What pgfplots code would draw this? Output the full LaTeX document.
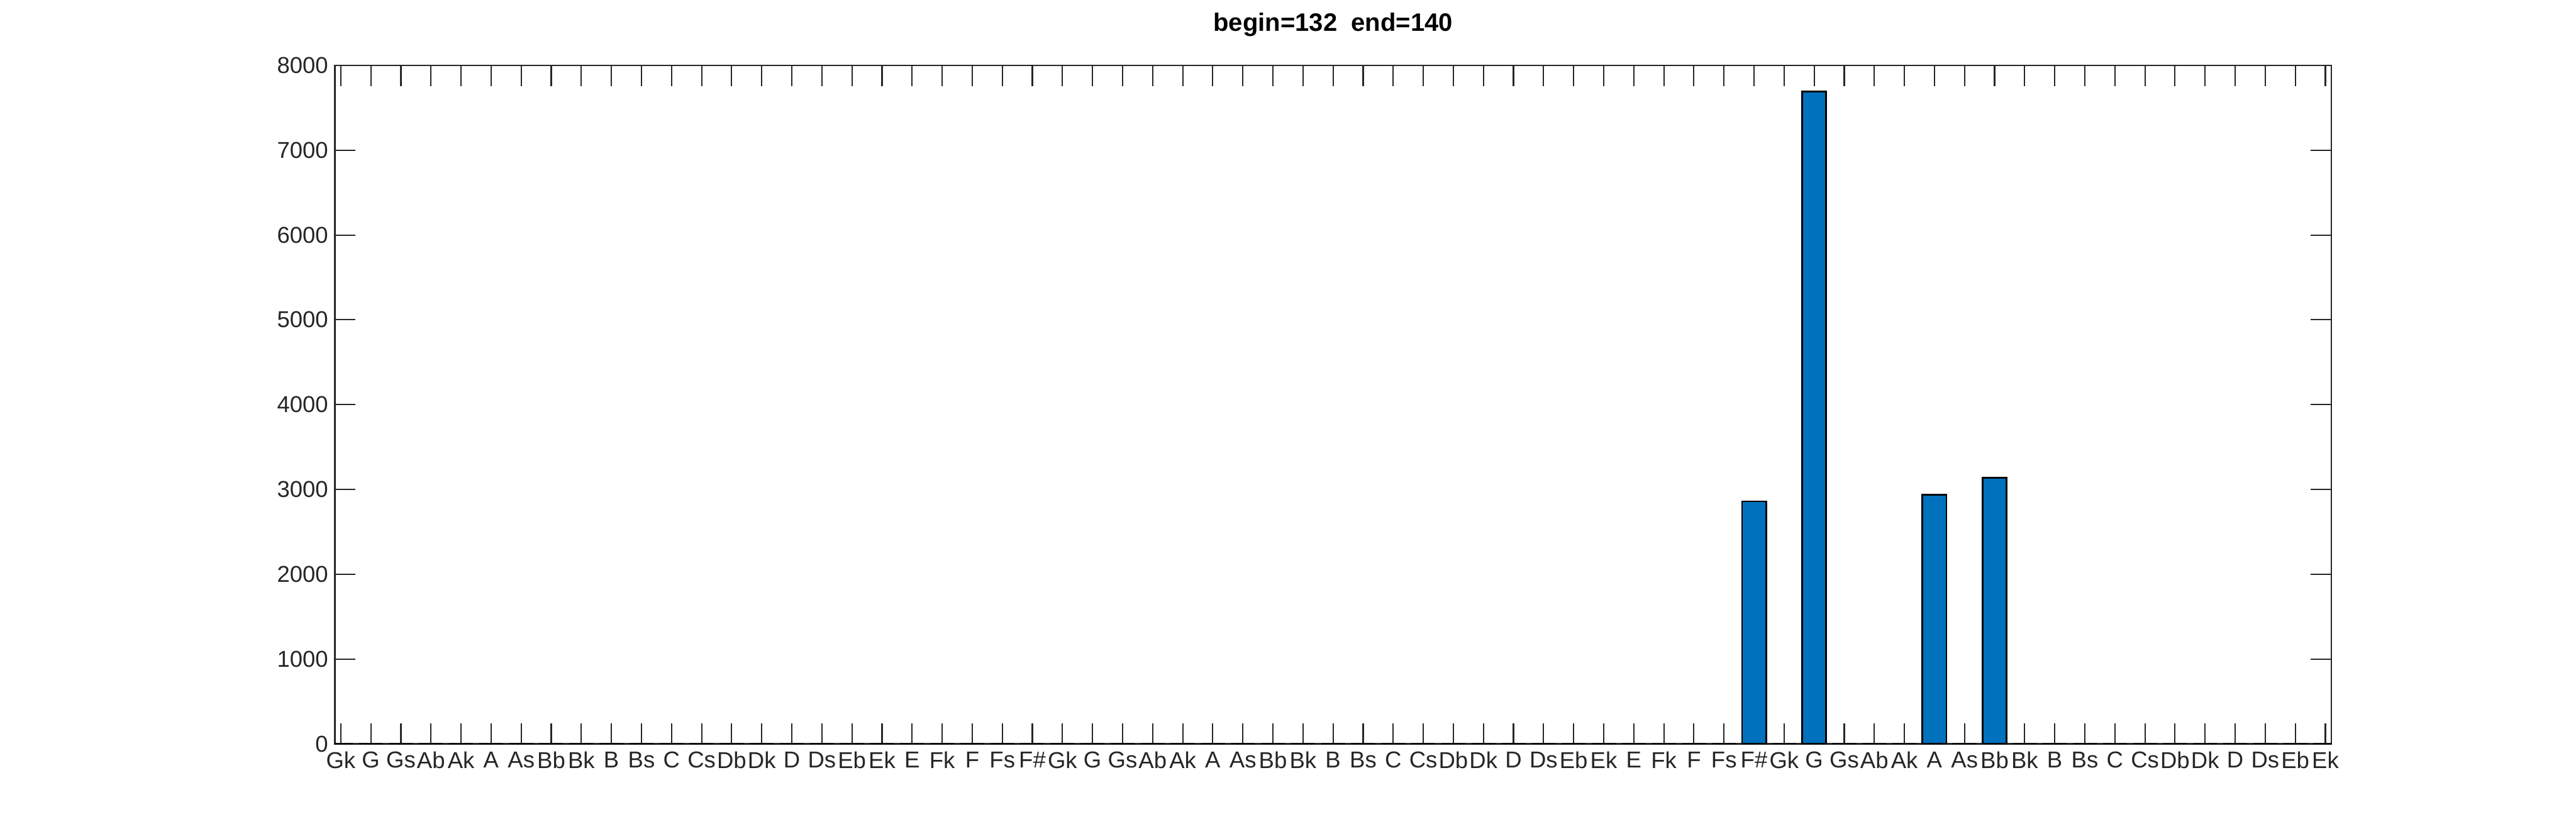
\documentclass[border=0pt]{standalone}
\usepackage{fontspec}
\setmainfont{Liberation Sans}
\usepackage{pgfplots}
\pgfplotsset{compat=1.18}
\definecolor{mblue}{RGB}{0,114,189}
\definecolor{mgray}{RGB}{38,38,38}
\begin{document}
\begin{tikzpicture}
\useasboundingbox (0,0) rectangle (583.3pt,189.2pt);
\begin{axis}[
  at={(75.8pt,20.8pt)}, anchor=south west,
  scale only axis, width=452.1pt, height=153.6pt,
  xmin=0.8, xmax=67.2, ymin=0, ymax=8000,
  ybar, bar width=0.8, bar shift=0pt,
  xtick={1,...,67},
  xticklabels={Gk,G,Gs,Ab,Ak,A,As,Bb,Bk,B,Bs,C,Cs,Db,Dk,D,Ds,Eb,Ek,E,Fk,F,Fs,F\#,Gk,G,Gs,Ab,Ak,A,As,Bb,Bk,B,Bs,C,Cs,Db,Dk,D,Ds,Eb,Ek,E,Fk,F,Fs,F\#,Gk,G,Gs,Ab,Ak,A,As,Bb,Bk,B,Bs,C,Cs,Db,Dk,D,Ds,Eb,Ek},
  ytick={0,1000,...,8000},
  tick align=inside, tick pos=both,
  xticklabel pos=lower, yticklabel pos=left,
  major tick length=4.7pt,
  axis line style={mgray, line width=0.35pt},
  tick style={mgray, line width=0.3pt},
  scaled y ticks=false,
  /pgf/number format/assume math mode=true,
  yticklabel={\pgfmathprintnumber[fixed,precision=0,1000 sep={}]{\tick}},
  ticklabel style={font=\fontsize{5.2}{6}\selectfont, text=mgray},
  xticklabel style={inner sep=1pt, yshift=-0.6pt},
  yticklabel style={inner sep=1pt, xshift=-0.3pt},
  title={begin=132\ \ end=140},
  title style={font=\bfseries\fontsize{5.7}{6.5}\selectfont, at={(0.5,1)}, anchor=south, yshift=-1.6pt, inner sep=2pt},
]
\addplot[fill=mblue, draw=black, line width=0.4pt] coordinates {
(1,0) (2,0) (3,0) (4,0) (5,0) (6,0) (7,0) (8,0) (9,0) (10,0)
(11,0) (12,0) (13,0) (14,0) (15,0) (16,0) (17,0) (18,0) (19,0) (20,0)
(21,0) (22,0) (23,0) (24,0) (25,0) (26,0) (27,0) (28,0) (29,0) (30,0)
(31,0) (32,0) (33,0) (34,0) (35,0) (36,0) (37,0) (38,0) (39,0) (40,0)
(41,0) (42,0) (43,0) (44,0) (45,0) (46,0) (47,0) (48,2860) (49,0) (50,7690)
(51,0) (52,0) (53,0) (54,2940) (55,0) (56,3140) (57,0) (58,0) (59,0) (60,0)
(61,0) (62,0) (63,0) (64,0) (65,0) (66,0) (67,0)
};
\end{axis}
\end{tikzpicture}
\end{document}
